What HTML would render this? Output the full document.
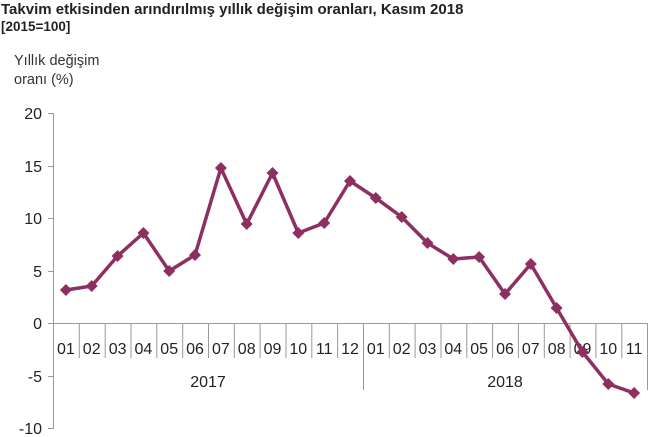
<!DOCTYPE html>
<html><head><meta charset="utf-8"><style>
body{margin:0;background:#fff;}
svg{display:block;font-family:"Liberation Sans",Arial,sans-serif;}
</style></head><body>
<svg width="650" height="437" viewBox="0 0 650 437">
<text x="1" y="14" font-size="15" font-weight="bold" fill="#222">Takvim etkisinden arındırılmış yıllık değişim oranları, Kasım 2018</text>
<text x="1" y="31" font-size="13.5" font-weight="bold" fill="#222">[2015=100]</text>
<text x="14" y="65" font-size="14.5" fill="#333">Yıllık değişim</text>
<text x="14" y="84" font-size="14.5" fill="#333">oranı (%)</text>
<g stroke="#999" stroke-width="1" fill="none">
<line x1="53.5" y1="113" x2="53.5" y2="429"/>
<line x1="48" y1="113.5" x2="53" y2="113.5"/>
<line x1="48" y1="166.5" x2="53" y2="166.5"/>
<line x1="48" y1="218.5" x2="53" y2="218.5"/>
<line x1="48" y1="271.5" x2="53" y2="271.5"/>
<line x1="48" y1="376.5" x2="53" y2="376.5"/>
<line x1="48" y1="428.5" x2="53" y2="428.5"/>
<line x1="48" y1="323.5" x2="647" y2="323.5"/>
<path d="M79.3 323V358M105.2 323V358M131 323V358M156.8 323V358M182.7 323V358M208.5 323V358M234.3 323V358M260.1 323V358M286 323V358M311.8 323V358M337.6 323V358M363.5 323V390M389.3 323V358M415.1 323V358M441 323V358M466.8 323V358M492.6 323V358M518.4 323V358M544.3 323V358M570.1 323V358M595.9 323V358M621.8 323V358M647.5 323V390"/>
</g>
<g font-size="16" fill="#222" text-anchor="end">
<text x="42" y="119">20</text><text x="42" y="172">15</text><text x="42" y="224">10</text>
<text x="42" y="277">5</text><text x="42" y="329">0</text><text x="42" y="382">-5</text><text x="42" y="434">-10</text>
</g>
<g font-size="16" fill="#222" text-anchor="middle">
<text x="65.9" y="354">01</text><text x="91.7" y="354">02</text><text x="117.6" y="354">03</text><text x="143.4" y="354">04</text><text x="169.2" y="354">05</text><text x="195" y="354">06</text><text x="220.9" y="354">07</text><text x="246.7" y="354">08</text><text x="272.5" y="354">09</text><text x="298.3" y="354">10</text><text x="324.2" y="354">11</text><text x="350" y="354">12</text>
<text x="375.8" y="354">01</text><text x="401.7" y="354">02</text><text x="427.5" y="354">03</text><text x="453.3" y="354">04</text><text x="479.1" y="354">05</text><text x="505" y="354">06</text><text x="530.8" y="354">07</text><text x="556.6" y="354">08</text><text x="582.5" y="354">09</text><text x="608.3" y="354">10</text><text x="634.1" y="354">11</text>
<text x="208" y="387">2017</text><text x="505" y="387">2018</text>
</g>
<polyline fill="none" stroke="#8E2F62" stroke-width="3.5" stroke-linejoin="round" points="65.9,290 91.7,286 117.6,256 143.4,233 169.2,271 195,255 220.9,168 246.7,224 272.5,173 298.3,233 324.2,223 350,181 375.8,198 401.7,217 427.5,243 453.3,259 479.1,257 505,294 530.8,264 556.6,308 582.5,352 608.3,384 634.1,393"/>
<g fill="#8E2F62">
<path d="M65.9 284l6 6-6 6-6-6z"/><path d="M91.7 280l6 6-6 6-6-6z"/><path d="M117.6 250l6 6-6 6-6-6z"/><path d="M143.4 227l6 6-6 6-6-6z"/><path d="M169.2 265l6 6-6 6-6-6z"/><path d="M195 249l6 6-6 6-6-6z"/><path d="M220.9 162l6 6-6 6-6-6z"/><path d="M246.7 218l6 6-6 6-6-6z"/><path d="M272.5 167l6 6-6 6-6-6z"/><path d="M298.3 227l6 6-6 6-6-6z"/><path d="M324.2 217l6 6-6 6-6-6z"/><path d="M350 175l6 6-6 6-6-6z"/><path d="M375.8 192l6 6-6 6-6-6z"/><path d="M401.7 211l6 6-6 6-6-6z"/><path d="M427.5 237l6 6-6 6-6-6z"/><path d="M453.3 253l6 6-6 6-6-6z"/><path d="M479.1 251l6 6-6 6-6-6z"/><path d="M505 288l6 6-6 6-6-6z"/><path d="M530.8 258l6 6-6 6-6-6z"/><path d="M556.6 302l6 6-6 6-6-6z"/><path d="M582.5 346l6 6-6 6-6-6z"/><path d="M608.3 378l6 6-6 6-6-6z"/><path d="M634.1 387l6 6-6 6-6-6z"/>
</g>
</svg>
</body></html>
